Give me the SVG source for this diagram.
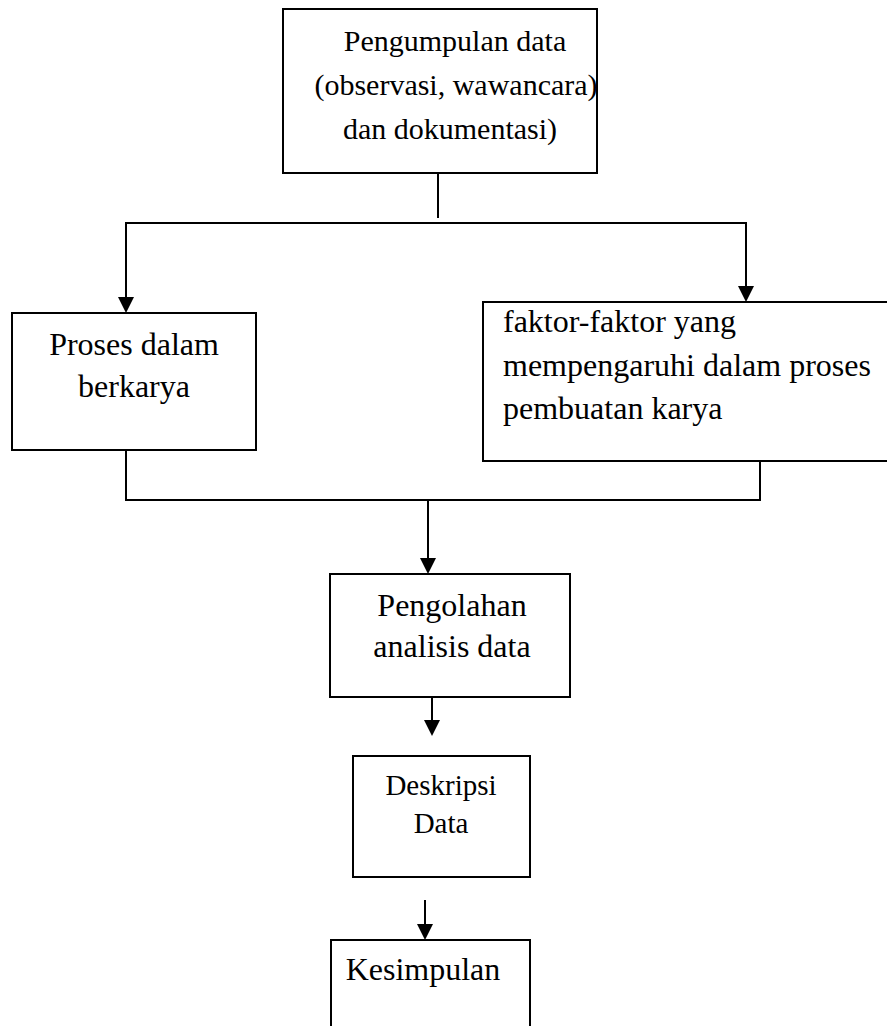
<svg xmlns="http://www.w3.org/2000/svg" width="887" height="1026" viewBox="0 0 887 1026">
<style>
.box{fill:#fff;stroke:#000;stroke-width:2}
.t{font-family:"Liberation Serif","Times New Roman",serif;font-size:32px;fill:#000}
.c{text-anchor:middle}
.ln{fill:none;stroke:#000;stroke-width:2}
</style>
<rect width="887" height="1026" fill="#fff"/>
<g id="n1">
<rect class="box" x="283" y="9" width="314" height="164"/>
<text class="t c" x="455" y="51" style="font-size:30px">Pengumpulan data</text>
<text class="t c" x="456" y="95" style="font-size:30px">(observasi, wawancara)</text>
<text class="t c" x="450" y="139" style="font-size:30px">dan dokumentasi)</text>
</g>
<g id="n2">
<rect class="box" x="12" y="313" width="244" height="137"/>
<text class="t c" x="134" y="355">Proses dalam</text>
<text class="t c" x="134" y="397">berkarya</text>
</g>
<g id="n3">
<rect class="box" x="483" y="302" width="410" height="159"/>
<text class="t" x="503" y="332">faktor-faktor yang</text>
<text class="t" x="503" y="376">mempengaruhi dalam proses</text>
<text class="t" x="503" y="419">pembuatan karya</text>
</g>
<g id="n4">
<rect class="box" x="330" y="574" width="240" height="123"/>
<text class="t c" x="452" y="616">Pengolahan</text>
<text class="t c" x="452" y="657">analisis data</text>
</g>
<g id="n5">
<rect class="box" x="353" y="756" width="177" height="121"/>
<text class="t c" x="441" y="795" style="font-size:29px">Deskripsi</text>
<text class="t c" x="441" y="833" style="font-size:29px">Data</text>
</g>
<g id="n6">
<rect class="box" x="331" y="940" width="199" height="100"/>
<text class="t c" x="423" y="980">Kesimpulan</text>
</g>
<g id="connectors">
<line class="ln" x1="438" y1="173" x2="438" y2="218"/>
<polyline class="ln" points="126,300 126,223 746,223 746,290"/>
<path d="M118,297 L134,297 L126,313 Z" fill="#000"/>
<path d="M738,286 L754,286 L746,302 Z" fill="#000"/>
<polyline class="ln" points="126,450 126,500 760,500 760,461"/>
<line class="ln" x1="428" y1="500" x2="428" y2="560"/>
<path d="M420,558 L436,558 L428,574 Z" fill="#000"/>
<line class="ln" x1="432" y1="697" x2="432" y2="722"/>
<path d="M424,720 L440,720 L432,736 Z" fill="#000"/>
<line class="ln" x1="425" y1="900" x2="425" y2="926"/>
<path d="M417,924 L433,924 L425,940 Z" fill="#000"/>
</g>
</svg>
